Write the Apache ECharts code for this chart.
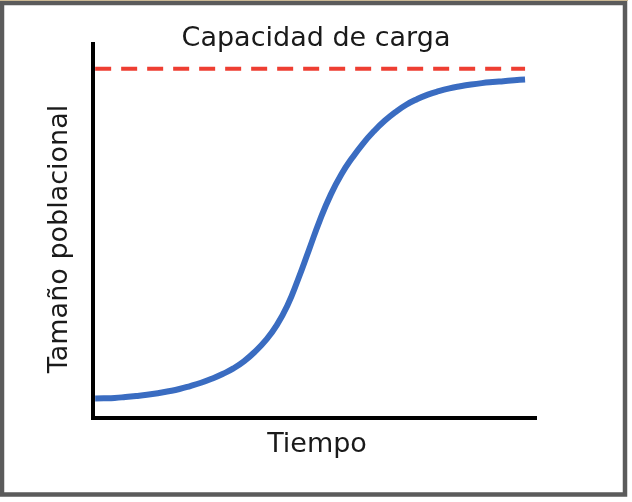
<!DOCTYPE html>
<html>
<head>
<meta charset="utf-8">
<script src="https://cdn.jsdelivr.net/npm/echarts@6/dist/echarts.min.js"></script>
<style>
  html, body { margin: 0; padding: 0; background: #ffffff; }
  #chart { width: 632px; height: 502px; }
</style>
</head>
<body>
<div id="chart"></div>
<script>
// ---- data ----
const chartTitle = 'Capacidad de carga';
const xAxisTitle = 'Tiempo';
const yAxisTitle = 'Tamaño poblacional';

const timeValues = [0.5, 2.5, 5, 7.5, 10, 12.5, 15, 17.5, 20, 22.5, 25, 27.5, 30, 32.5, 35, 37.5, 40, 42.5, 45, 47.5, 50, 52.5, 55, 57.5, 60, 62.5, 65, 67.5, 70, 72.5, 75, 77.5, 80, 82.5, 85, 87.5, 90, 92.5, 95, 97.5, 100];
const populationValues = [5.6, 5.65, 5.75, 6.0, 6.3, 6.65, 7.1, 7.65, 8.3, 9.15, 10.1, 11.25, 12.6, 14.2, 16.3, 19.0, 22.3, 26.5, 32.2, 39.8, 48.2, 56.6, 63.9, 69.8, 74.5, 78.6, 82.1, 85.1, 87.6, 89.7, 91.3, 92.6, 93.6, 94.4, 95.0, 95.5, 95.9, 96.2, 96.45, 96.7, 96.9];

const capacityTime = [0.5, 100];
const capacityValue = 100;

const xMax = 102.3;
const yMax = 107.1;

const logistic = timeValues.map((t, i) => [t, populationValues[i]]);
const capacity = capacityTime.map(t => [t, capacityValue]);

const FONT = 'DejaVu Sans';

const chart = echarts.init(document.getElementById('chart'), null, { renderer: 'canvas' });
chart.setOption({
  backgroundColor: '#ffffff',
  animation: false,
  title: {
    text: chartTitle,
    left: 'center',
    top: 25,
    padding: 0,
    textStyle: { fontFamily: FONT, fontSize: 27, fontWeight: 'normal', color: '#1a1a1a' }
  },
  grid: { left: 93, right: 97, top: 44, bottom: 84, containLabel: false },
  xAxis: {
    type: 'value',
    min: 0,
    max: xMax,
    name: xAxisTitle,
    nameLocation: 'middle',
    nameGap: 13,
    nameTextStyle: { fontFamily: FONT, fontSize: 27, color: '#1a1a1a', padding: [0, 0, 0, 6] },
    axisLine: { show: true, lineStyle: { color: '#000000', width: 4, cap: 'square' } },
    axisTick: { show: false },
    axisLabel: { show: false },
    splitLine: { show: false }
  },
  yAxis: {
    type: 'value',
    min: 0,
    max: yMax,
    axisLine: { show: true, lineStyle: { color: '#000000', width: 4, cap: 'square' } },
    axisTick: { show: false },
    axisLabel: { show: false },
    splitLine: { show: false }
  },
  graphic: [
    {
      type: 'rect',
      silent: true,
      shape: { x: 2, y: 3, width: 623, height: 491.5 },
      style: { fill: 'none', stroke: '#5b5b5b', lineWidth: 4.5 }
    },
    {
      type: 'rect',
      silent: true,
      shape: { x: 0, y: 0, width: 628, height: 1 },
      style: { fill: '#cbb893' }
    },
    {
      type: 'text',
      silent: true,
      x: 60,
      y: 239,
      rotation: Math.PI / 2,
      style: {
        text: yAxisTitle,
        fontFamily: FONT,
        fontSize: 27,
        fill: '#1a1a1a',
        align: 'center',
        verticalAlign: 'middle'
      }
    }
  ],
  series: [
    {
      type: 'line',
      data: capacity,
      symbol: 'none',
      z: 3,
      lineStyle: { color: '#ee3e32', width: 4, type: [16, 10] }
    },
    {
      type: 'line',
      data: logistic,
      symbol: 'none',
      smooth: 0.5,
      z: 4,
      lineStyle: { color: '#3a6cc1', width: 6 }
    }
  ]
});
</script>
</body>
</html>
